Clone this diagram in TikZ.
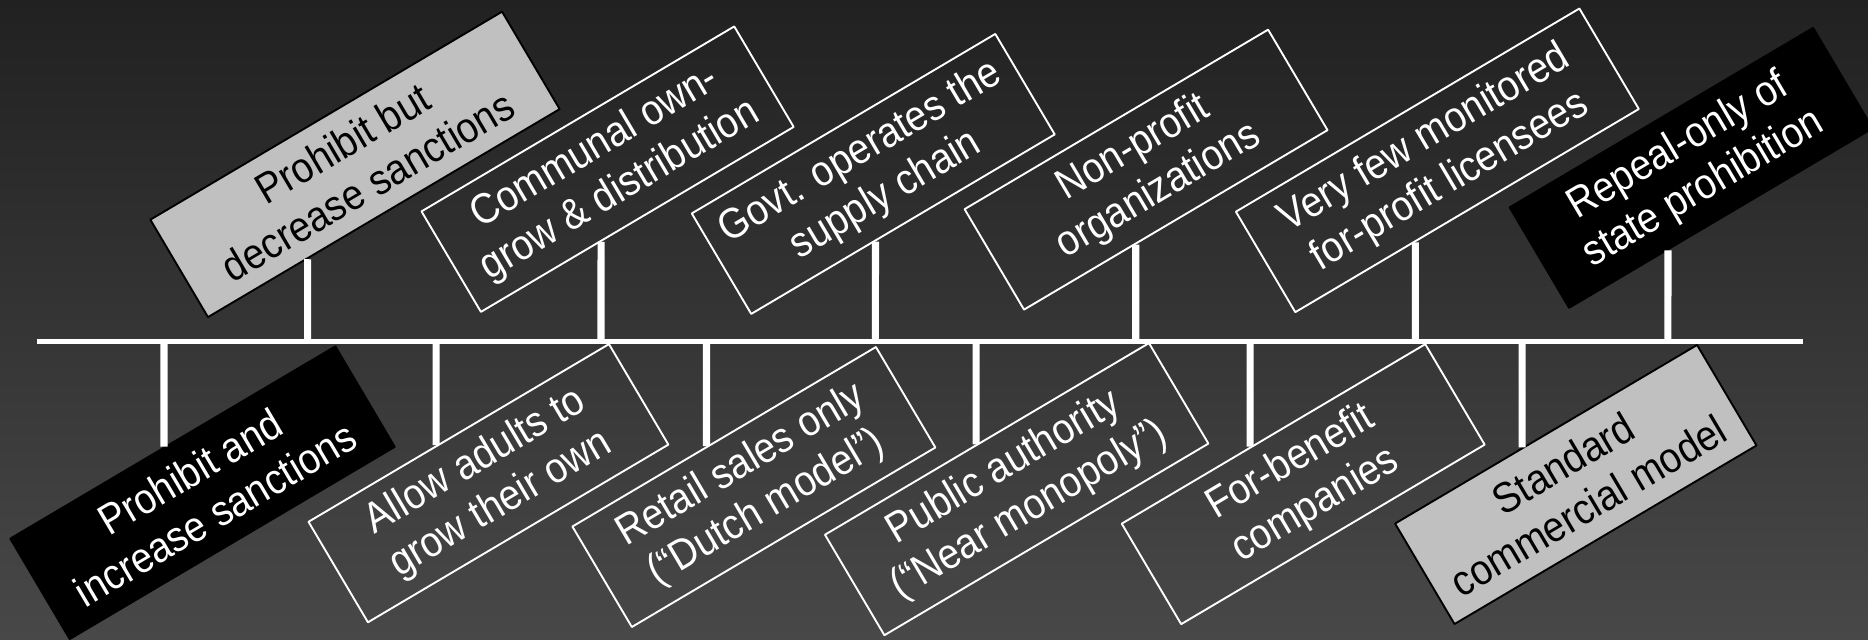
\documentclass[tikz,border=0pt]{standalone}
\usepackage{fontspec}
\setmainfont{Liberation Sans}[FakeStretch=0.9]
\definecolor{bgtop}{HTML}{212121}
\definecolor{bgbottom}{HTML}{484848}
\definecolor{boxgray}{HTML}{C0C0C0}

\begin{document}
\begin{tikzpicture}[line join=round, line cap=round]

		\tikzset{box style/.style={rotate=30.6, align=center, inner sep=0pt, minimum width=2.96cm, minimum height=0.98cm, font=\fontsize{10.2}{11.8}\selectfont, line width=0.45pt}}
		\tikzset{gray box/.style={box style, fill=boxgray, draw=black, text=black}}
		\tikzset{black box/.style={box style, fill=black, draw=black, text=white}}
		\tikzset{open box/.style={box style, draw=white, text=white}}
		\tikzset{tick style/.style={white, line width=1.7pt, line cap=butt}}

		\useasboundingbox (0,0) rectangle (15.68,5.364);
		\shade[top color=bgtop, bottom color=bgbottom] (0,0) rectangle (15.68,5.364);

		% spine
		\coordinate (spine-l) at (0.309,2.496);
		\coordinate (spine-r) at (15.135,2.496);
		\draw[white, line width=1.1pt, line cap=butt] (spine-l) -- (spine-r);

		% upper row
		\node[gray box, minimum width=3.43cm, minimum height=0.95cm] (pbd) at (2.98,3.984) {Prohibit but\\decrease sanctions};
		\node[open box, minimum width=3.05cm] (com) at (5.10,3.944) {Communal own-\\grow \& distribution};
		\node[open box] (gov) at (7.33,3.904) {Govt. operates the\\supply chain};
		\node[open box] (npo) at (9.62,3.94) {Non-profit\\organizations};
		\node[open box, minimum width=3.35cm] (few) at (12.065,4.018) {Very few monitored\\for-profit licensees};
		\node[black box] (rep) at (14.195,3.955) {Repeal-only of\\state prohibition};

		% lower row
		\node[black box, minimum width=3.17cm] (pis) at (1.70,1.228) {Prohibit and\\increase sanctions};
		\node[open box, minimum width=2.93cm] (aag) at (4.10,1.308) {Allow adults to\\grow their own};
		\node[open box] (ret) at (6.328,1.276) {Retail sales only\\(“Dutch model”)};
		\node[open box, minimum width=3.16cm] (pub) at (8.534,1.258) {Public authority\\(“Near monopoly”)};
		\node[open box] (fbc) at (10.939,1.30) {For-benefit\\companies};
		\node[gray box, minimum width=2.945cm] (std) at (13.227,1.297) {Standard\\commercial model};

		\foreach \n/\x in {pbd/2.582, com/5.045, gov/7.348, npo/9.533, few/11.88, rep/14.00}{
			\coordinate (\n-s) at (\x,2.496);
			\coordinate (\n-t) at (\x,5);
			\draw[tick style] (\n-s) -- (intersection of \n-s--\n-t and \n.south west--\n.south east);
		}
		\foreach \n/\x in {pis/1.377, aag/3.661, ret/5.93, pub/8.193, fbc/10.493, std/12.776}{
			\coordinate (\n-s) at (\x,2.496);
			\coordinate (\n-t) at (\x,0);
			\draw[tick style] (\n-s) -- (intersection of \n-s--\n-t and \n.north west--\n.north east);
		}
		\end{tikzpicture}
\end{document}
